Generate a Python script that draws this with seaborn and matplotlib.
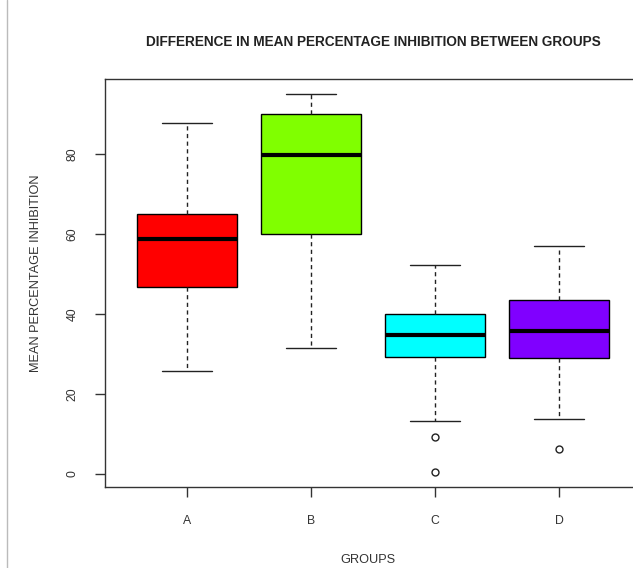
import pandas as pd
import seaborn as sns
import matplotlib.pyplot as plt
from matplotlib.lines import Line2D

group_a = [25.75, 38.0, 46.75, 52.0, 58.75, 62.0, 65.0, 76.0, 87.75]
group_b = [31.4, 48.0, 60.0, 72.0, 79.7, 85.0, 90.0, 92.0, 94.9]
group_c = [0.4, 9.3, 13.2, 29.25, 31.0, 33.0, 34.6, 36.0, 38.0, 40.0, 44.0, 48.0, 52.3]
group_d = [6.3, 13.75, 28.9, 32.0, 35.75, 40.0, 43.5, 50.0, 56.9]

groups = ["A", "B", "C", "D"]
colors = ["#FF0000", "#80FF00", "#00FFFF", "#8000FF"]
y_ticks = [0, 20, 40, 60, 80]

df = pd.concat([
    pd.DataFrame({"group": g, "value": v})
    for g, v in zip(groups, [group_a, group_b, group_c, group_d])
])

sns.set_style("white")
plt.rcParams['font.family'] = ['Liberation Sans', 'DejaVu Sans']

fig = plt.figure(figsize=(6.33, 5.68), dpi=100)
ax = fig.add_axes([105 / 633, 81 / 568, 536 / 633, 408 / 568])

sns.boxplot(data=df, x="group", y="value", hue="group", order=groups,
            palette=colors, legend=False, width=0.8, saturation=1,
            linecolor="black", linewidth=1,
            whiskerprops=dict(linestyle=(0, (3, 2.5)), color="#222222"),
            capprops=dict(color="#222222"),
            medianprops=dict(linewidth=3, color="black"),
            flierprops=dict(marker="o", markersize=5, markerfacecolor="none",
                            markeredgecolor="#222222", markeredgewidth=1),
            ax=ax)

ax.set_xlim(-0.66, 3.66)
ax.set_ylim(-3.3, 98.7)
ax.set_yticks(y_ticks)
ax.set_yticklabels([str(t) for t in y_ticks], rotation=90, va="center")
for s in ax.spines.values():
    s.set_color("#333333")
    s.set_linewidth(1)
ax.tick_params(axis="both", direction="out", length=7, width=1, color="#333333",
               labelsize=8.8, labelcolor="#333333")
ax.tick_params(axis="y", pad=12, left=True)
ax.tick_params(axis="x", pad=13, bottom=True)

ax.set_xlabel("GROUPS", fontsize=9.2, color="#333333")
ax.set_ylabel("MEAN PERCENTAGE INHIBITION", fontsize=9.2, color="#333333")
ax.xaxis.set_label_coords(0.49, -0.165)
ax.yaxis.set_label_coords(-0.117, 0.525)
ax.set_title("DIFFERENCE IN MEAN PERCENTAGE INHIBITION BETWEEN GROUPS",
             fontsize=9.8, fontweight="bold", color="#222222", y=1.06)

# thin grey border on the left edge of the image
fig.add_artist(Line2D([7 / 633, 7 / 633], [0, 1], color="#BBBBBB", linewidth=1))

fig.savefig("out.png", dpi=100)
